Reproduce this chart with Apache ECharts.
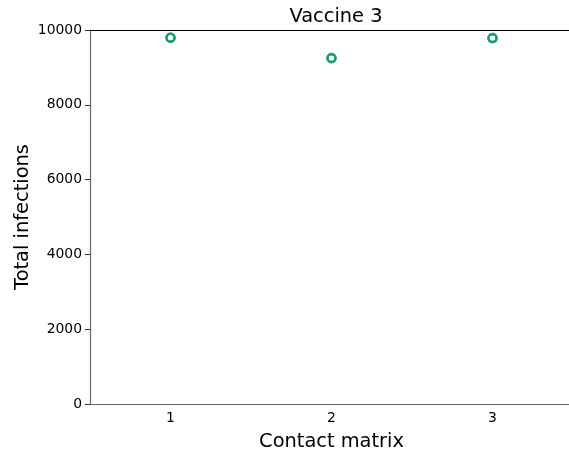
<!DOCTYPE html>
<html>
<head>
<meta charset="utf-8">
<script src="https://cdn.jsdelivr.net/npm/echarts@6/dist/echarts.min.js"></script>
<style>
  html, body { margin: 0; padding: 0; background: #fff; }
  #chart { width: 569px; height: 459px; }
</style>
</head>
<body>
<div id="chart"></div>
<script>
// contact matrix categories and replicate totals
let categories = ["1", "2", "3"];
let matrix1 = [9790, 9800, 9785, 9795];
let matrix2 = [9245, 9255, 9240, 9250];
let matrix3 = [9780, 9790, 9775, 9785];
let yTicks = { min: 0, max: 10000, interval: 2000 };

let font = "DejaVu Sans";
let points = [];
[matrix1, matrix2, matrix3].forEach((vals, i) => {
  vals.forEach(v => points.push([categories[i], v]));
});

let chart = echarts.init(document.getElementById("chart"));
chart.setOption({
  animation: false,
  title: {
    text: "Vaccine 3",
    left: 331, top: 2, textAlign: "center",
    textStyle: { fontFamily: font, fontSize: 19.4, fontWeight: "normal", color: "#000" }
  },
  grid: { left: 90, right: -4, top: 30, bottom: 55, containLabel: false, outerBoundsMode: "none" },
  xAxis: [{
    type: "category",
    data: categories,
    boundaryGap: true,
    name: "Contact matrix",
    nameLocation: "middle",
    nameGap: 28,
    nameMoveOverlap: false,
    nameTextStyle: { fontFamily: font, fontSize: 19.4, color: "#000" },
    axisLine: { lineStyle: { color: "#666", width: 1.2 } },
    axisTick: { alignWithLabel: true, length: 5, lineStyle: { color: "#333" } },
    axisLabel: { fontFamily: font, fontSize: 13.9, color: "#000", margin: 7 },
    splitLine: { show: false }
  }, {
    type: "category",
    data: categories,
    position: "top",
    axisLine: { lineStyle: { color: "#000", width: 1.2 } },
    axisTick: { show: false },
    axisLabel: { show: false }
  }],
  yAxis: {
    type: "value",
    min: yTicks.min, max: yTicks.max, interval: yTicks.interval,
    name: "Total infections",
    nameLocation: "middle",
    nameGap: 58,
    nameMoveOverlap: false,
    nameTextStyle: { fontFamily: font, fontSize: 19.4, color: "#000" },
    axisLine: { show: true, lineStyle: { color: "#666", width: 1.2 } },
    axisTick: { show: true, length: 5, lineStyle: { color: "#333" } },
    axisLabel: { fontFamily: font, fontSize: 13.9, color: "#000", margin: 8, formatter: v => String(v) },
    splitLine: { show: false }
  },
  series: [{
    type: "scatter",
    data: points,
    symbol: "circle",
    symbolSize: 8,
    itemStyle: { color: "rgba(0,0,0,0)", borderColor: "#1b9e77", borderWidth: 2, opacity: 1 }
  }]
});
</script>
</body>
</html>
